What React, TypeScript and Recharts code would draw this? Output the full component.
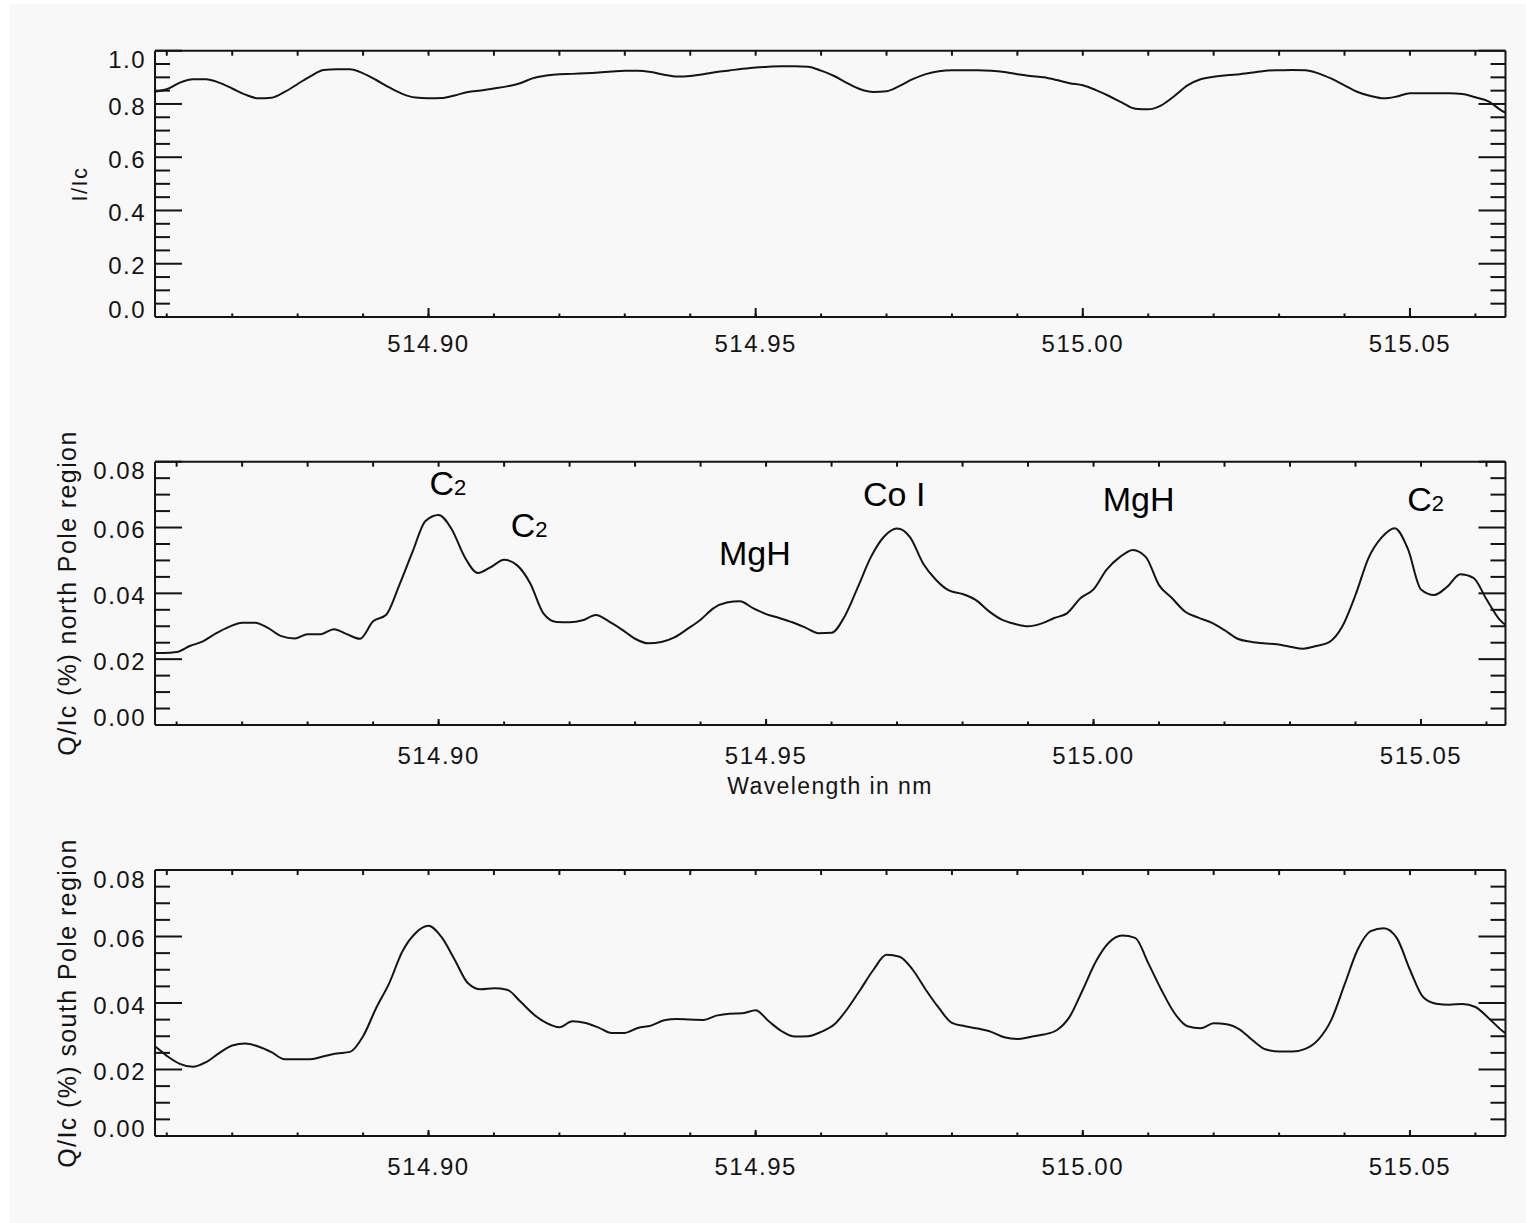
import React from "react";
import { LineChart, Line, XAxis, YAxis, ReferenceDot } from "recharts";

// wavelength grid in nm, shared by the three panels
const wavelength = [
  514.856, 514.858, 514.86, 514.862, 514.864, 514.866, 514.868, 514.87, 514.872, 514.874,
  514.876, 514.878, 514.88, 514.882, 514.884, 514.886, 514.888, 514.89, 514.892, 514.894,
  514.896, 514.898, 514.9, 514.902, 514.904, 514.906, 514.908, 514.91, 514.912, 514.914,
  514.916, 514.918, 514.92, 514.922, 514.924, 514.926, 514.928, 514.93, 514.932, 514.934,
  514.936, 514.938, 514.94, 514.942, 514.944, 514.946, 514.948, 514.95, 514.952, 514.954,
  514.956, 514.958, 514.96, 514.962, 514.964, 514.966, 514.968, 514.97, 514.972, 514.974,
  514.976, 514.978, 514.98, 514.982, 514.984, 514.986, 514.988, 514.99, 514.992, 514.994,
  514.996, 514.998, 515.0, 515.002, 515.004, 515.006, 515.008, 515.01, 515.012, 515.014,
  515.016, 515.018, 515.02, 515.022, 515.024, 515.026, 515.028, 515.03, 515.032, 515.034,
  515.036, 515.038, 515.04, 515.042, 515.044, 515.046, 515.048, 515.05, 515.052, 515.054,
  515.056, 515.058, 515.06, 515.062, 515.064, 515.066,
];

// I/Ic
const intensity = [
  0.842, 0.846, 0.855, 0.88, 0.893, 0.893, 0.88, 0.858, 0.835, 0.821,
  0.823, 0.845, 0.875, 0.905, 0.928, 0.93, 0.93, 0.915, 0.89, 0.862,
  0.838, 0.824, 0.821, 0.822, 0.832, 0.845, 0.851, 0.858, 0.866, 0.878,
  0.897, 0.907, 0.912, 0.913, 0.915, 0.918, 0.922, 0.925, 0.925, 0.92,
  0.91, 0.903, 0.905, 0.912, 0.92, 0.926, 0.932, 0.937, 0.94, 0.942,
  0.942, 0.94, 0.925, 0.905, 0.878, 0.855, 0.845, 0.848, 0.868, 0.893,
  0.912, 0.923, 0.927, 0.927, 0.927, 0.925, 0.92, 0.912, 0.905, 0.9,
  0.89, 0.878, 0.87, 0.852, 0.83, 0.805, 0.782, 0.78, 0.795, 0.83,
  0.87, 0.893, 0.902, 0.908, 0.912, 0.918, 0.925, 0.927, 0.928, 0.927,
  0.915, 0.895, 0.87, 0.845, 0.83, 0.821, 0.828, 0.84, 0.84, 0.84,
  0.84, 0.837, 0.825, 0.81, 0.775, 0.75,
];

// Q/Ic (%) north pole region
const northQ = [
  0.0219, 0.0219, 0.0222, 0.024, 0.0254, 0.0278, 0.0298, 0.0311, 0.0311, 0.0294,
  0.027, 0.0263, 0.0276, 0.0276, 0.0291, 0.0276, 0.0262, 0.0315, 0.0335, 0.0425,
  0.0525, 0.062, 0.0638, 0.0595, 0.051, 0.0462, 0.048, 0.0502, 0.0485, 0.043,
  0.0339, 0.0313, 0.0312, 0.0318, 0.0334, 0.0315, 0.029, 0.0262, 0.0248, 0.0252,
  0.0266, 0.0292, 0.032, 0.0355, 0.0372, 0.0376, 0.0355, 0.0337, 0.0325, 0.0312,
  0.0296, 0.0279, 0.028, 0.033, 0.0418, 0.051, 0.0572, 0.0597, 0.057, 0.049,
  0.044, 0.0408, 0.0398, 0.038, 0.0346, 0.032, 0.0307, 0.03, 0.0308, 0.0325,
  0.034, 0.0385, 0.0412, 0.0472, 0.051, 0.0532, 0.051, 0.0425, 0.0385, 0.0344,
  0.0326, 0.0311, 0.0288, 0.0262, 0.0253, 0.0248, 0.0245, 0.0238, 0.0232, 0.024,
  0.0252, 0.03, 0.0395, 0.0508, 0.057, 0.0598, 0.0535, 0.0412, 0.0395, 0.042,
  0.0458, 0.0447, 0.0382, 0.032, 0.029, 0.0275,
];

// Q/Ic (%) south pole region
const southQ = [
  0.0285, 0.0272, 0.0241, 0.0217, 0.0208, 0.0222, 0.0249, 0.0272, 0.0278, 0.0269,
  0.0252, 0.0231, 0.0231, 0.0231, 0.024, 0.0248, 0.0253, 0.03, 0.0385, 0.046,
  0.0555, 0.061, 0.0632, 0.0598, 0.053, 0.046, 0.0441, 0.0444, 0.044, 0.0405,
  0.0367, 0.034, 0.0327, 0.0345, 0.034, 0.0326, 0.031, 0.031, 0.0325, 0.0332,
  0.0348, 0.0352, 0.035, 0.0349, 0.0362, 0.0368, 0.0369, 0.0378, 0.0345, 0.0315,
  0.0299, 0.03, 0.0313, 0.0335, 0.0382, 0.044, 0.05, 0.0545, 0.0539, 0.05,
  0.044, 0.0385, 0.034, 0.033, 0.0323, 0.0313, 0.0297, 0.0292, 0.0298, 0.0305,
  0.0318, 0.0359, 0.044, 0.0525, 0.0582, 0.0603, 0.0596, 0.052, 0.044, 0.037,
  0.033, 0.0324, 0.0339, 0.0336, 0.032, 0.0287, 0.026, 0.0254, 0.0254, 0.0262,
  0.029, 0.035, 0.0455, 0.056, 0.0616, 0.0625, 0.0595, 0.05, 0.0418, 0.0398,
  0.0395, 0.0397, 0.0388, 0.0355, 0.0318, 0.029,
];

const xMajor = [514.9, 514.95, 515.0, 515.05];
const xMinor = [
  514.86, 514.87, 514.88, 514.89, 514.9, 514.91, 514.92, 514.93, 514.94, 514.95, 514.96,
  514.97, 514.98, 514.99, 515.0, 515.01, 515.02, 515.03, 515.04, 515.05, 515.06,
];
const iMajor = [0, 0.2, 0.4, 0.6, 0.8, 1.0];
const iMinor = [0.05, 0.1, 0.15, 0.25, 0.3, 0.35, 0.45, 0.5, 0.55, 0.65, 0.7, 0.75, 0.85, 0.9, 0.95];
const qMajor = [0, 0.02, 0.04, 0.06, 0.08];
const qMinor = [0.005, 0.01, 0.015, 0.025, 0.03, 0.035, 0.045, 0.05, 0.055, 0.065, 0.07, 0.075];

// line identifications on the north panel
const annoText = ["C", "C", "MgH", "Co I", "MgH", "C"];
const annoSub = ["2", "2", "", "", "", "2"];
const annoX = [514.8986, 514.911, 514.9428, 514.9648, 515.0014, 515.0479];
const annoY = [0.0699, 0.0571, 0.0486, 0.0665, 0.0649, 0.065];

const rows = wavelength.map((wl, i) => ({
  wl,
  intensity: intensity[i],
  north: northQ[i],
  south: southQ[i],
}));

const INK = "#141414";
const FONT = "'Liberation Sans', Arial, Helvetica, sans-serif";
const BG = "#f8f8f8";

const noLabel = () => <g />;

type PanelProps = {
  top: number;
  marginTop: number;
  plotHeight: number;
  xDomain: [number, number];
  yMax: number;
  yMajor: number[];
  yMinor: number[];
  yDigits: number;
  dataKey: string;
  xTick: number;
  xGap: number;
  children?: React.ReactNode;
};

function Panel(p: PanelProps) {
  const h = p.marginTop + p.plotHeight + 60;
  const line = { stroke: INK, strokeWidth: 2 };

  const xLabel = (t: any) => (
    <text x={t.x} y={t.y} dy="0.36em" textAnchor="middle" fontFamily={FONT} fontSize={24} letterSpacing={1.5} fill={INK}>
      {Number(t.payload.value).toFixed(2)}
    </text>
  );
  const yLabel = (t: any) => {
    const v = Number(t.payload.value);
    const shift = v >= p.yMax - 1e-9 ? 9 : v <= 1e-9 ? -8 : 2;
    return (
      <text x={t.x} y={t.y + shift} dy="0.36em" textAnchor="end" fontFamily={FONT} fontSize={24} letterSpacing={1.5} fill={INK}>
        {v.toFixed(p.yDigits)}
      </text>
    );
  };

  return (
    <div style={{ position: "absolute", left: 0, top: p.top }}>
      <LineChart width={1526} height={h} data={rows} margin={{ top: p.marginTop, right: 20.5, bottom: 60, left: 155 }}>
        <XAxis xAxisId="b" dataKey="wl" type="number" domain={p.xDomain} allowDataOverflow ticks={xMajor} interval={0}
          height={0.01} tickSize={-p.xTick} tickMargin={p.xTick + p.xGap} axisLine={line} tickLine={line} tick={xLabel} />
        <XAxis xAxisId="bm" dataKey="wl" type="number" domain={p.xDomain} allowDataOverflow ticks={xMinor} interval={0}
          height={0.01} tickSize={-3.5} axisLine={false} tickLine={line} tick={noLabel} />
        <XAxis xAxisId="t" dataKey="wl" type="number" orientation="top" domain={p.xDomain} allowDataOverflow ticks={xMinor}
          interval={0} height={0.01} tickSize={-5} axisLine={line} tickLine={line} tick={noLabel} />
        <YAxis yAxisId="l" type="number" domain={[0, p.yMax]} allowDataOverflow ticks={p.yMajor} interval={0}
          width={0.01} tickSize={-27} tickMargin={36} axisLine={line} tickLine={line} tick={yLabel} />
        <YAxis yAxisId="lm" type="number" domain={[0, p.yMax]} allowDataOverflow ticks={p.yMinor} interval={0}
          width={0.01} tickSize={-15} axisLine={false} tickLine={line} tick={noLabel} />
        <YAxis yAxisId="r" type="number" orientation="right" domain={[0, p.yMax]} allowDataOverflow ticks={p.yMajor}
          interval={0} width={0.01} tickSize={-27} axisLine={line} tickLine={line} tick={noLabel} />
        <YAxis yAxisId="rm" type="number" orientation="right" domain={[0, p.yMax]} allowDataOverflow ticks={p.yMinor}
          interval={0} width={0.01} tickSize={-15} axisLine={false} tickLine={line} tick={noLabel} />
        <Line xAxisId="b" yAxisId="l" dataKey={p.dataKey} type="monotone" stroke={INK} strokeWidth={2}
          dot={false} activeDot={false} isAnimationActive={false} />
        {p.children}
      </LineChart>
    </div>
  );
}

function Title({ x, y, text, rotate, size }: { x: number; y: number; text: string; rotate?: boolean; size: number }) {
  return (
    <div
      style={{
        position: "absolute",
        left: x,
        top: y,
        transform: `translate(-50%, -50%)${rotate ? " rotate(-90deg)" : ""}`,
        whiteSpace: "nowrap",
        fontFamily: FONT,
        fontSize: size,
        letterSpacing: 1.4,
        color: INK,
        lineHeight: 1,
      }}
    >
      {text}
    </div>
  );
}

export default function App() {
  return (
    <div style={{ position: "absolute", left: 0, top: 0, width: 1526, height: 1223, background: "#ffffff", overflow: "hidden" }}>
      <div style={{ position: "absolute", left: 10, top: 4, right: 0, bottom: 0, background: BG }} />

      <Panel top={10} marginTop={40.7} plotHeight={266.3} xDomain={[514.8582, 515.0646]} yMax={1}
        yMajor={iMajor} yMinor={iMinor} yDigits={1} dataKey="intensity" xTick={9} xGap={26} />

      <Panel top={420} marginTop={41.7} plotHeight={263.3} xDomain={[514.8567, 515.0629]} yMax={0.08}
        yMajor={qMajor} yMinor={qMinor} yDigits={2} dataKey="north" xTick={6} xGap={30}>
        {annoText.map((t, i) => (
          <ReferenceDot
            key={i}
            xAxisId="b"
            yAxisId="l"
            x={annoX[i]}
            y={annoY[i]}
            r={0}
            ifOverflow="visible"
            shape={(s: any) => (
              <text x={s.cx} y={s.cy} fontFamily={FONT} fontSize={34} fill="#000">
                {t}
                {annoSub[i] ? <tspan fontSize={22}>{annoSub[i]}</tspan> : null}
              </text>
            )}
          />
        ))}
      </Panel>

      <Panel top={830} marginTop={40} plotHeight={266} xDomain={[514.8582, 515.0646]} yMax={0.08}
        yMajor={qMajor} yMinor={qMinor} yDigits={2} dataKey="south" xTick={6} xGap={30} />

      <Title x={80} y={184} text="I/Ic" rotate size={22} />
      <Title x={67} y={593} text="Q/Ic (%) north Pole region" rotate size={25} />
      <Title x={67} y={1003} text="Q/Ic (%) south Pole region" rotate size={25} />
      <Title x={830} y={786} text="Wavelength in nm" size={23} />
    </div>
  );
}
